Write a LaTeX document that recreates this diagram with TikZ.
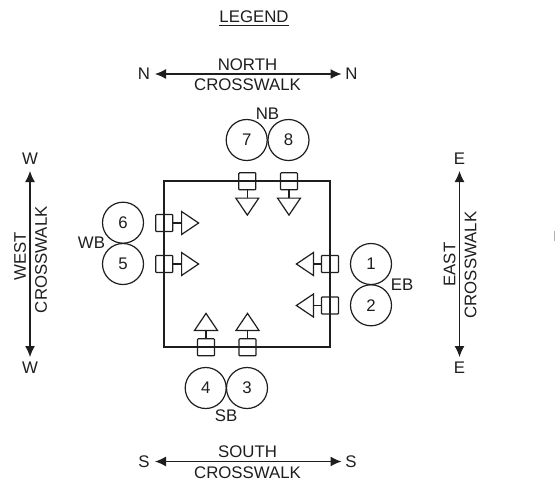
\documentclass[tikz,border=0pt]{standalone}
\usepackage{fontspec}
\setmainfont{Liberation Sans}
\usetikzlibrary{shapes.geometric,arrows.meta}
\definecolor{ink}{HTML}{1E1E1E}
\tikzset{
  x=1pt,y=-1pt,
  every node/.style={font=\fontsize{16.8}{18}\selectfont,text=ink,inner sep=0pt},
  line/.style={draw=ink,line width=1.2pt},
  phase/.style={circle,line,minimum size=41pt},
  head/.style={rectangle,line,minimum size=17pt,rounded corners=0.8pt},
  tri/.style={isosceles triangle,isosceles triangle apex angle=68,line,minimum height=17pt,anchor=lower side,inner sep=0pt},
  walk/.style={line,{Latex[length=11pt,width=10pt]}-{Latex[length=11pt,width=10pt]}},
}
\begin{document}
\begin{tikzpicture}
\useasboundingbox (0,0) rectangle (555,483);
\node (legend) at (254,17) {LEGEND};
\coordinate (ula) at (219,25.7);
\coordinate (ulb) at (288.5,25.7);
\draw[line] (ula) -- (ulb);
% intersection box
\node[rectangle,line,minimum width=166pt,minimum height=166pt] (box) at (247,264) {};
% circles
\node[phase] (p7) at (246.7,140) {7};
\node[phase] (p8) at (288.5,140) {8};
\node[phase] (p6) at (123,222.7) {6};
\node[phase] (p5) at (123,264) {5};
\node[phase] (p1) at (371,264) {1};
\node[phase] (p2) at (371,305.3) {2};
\node[phase] (p4) at (205.7,388) {4};
\node[phase] (p3) at (247,388) {3};
\node (nb) at (267.5,113.5) {NB};
\node (wb) at (91.5,242.5) {WB};
\node (eb) at (402,284.5) {EB};
\node (sb) at (226,416) {SB};
% north signals
\foreach \n/\x in {a/247.3,b/289}{
  \node[head] (h\n) at (\x,181.3) {};
  \node[tri,shape border rotate=270] (t\n) at (\x,197.5) {};
  \draw[line] (h\n.south) -- (t\n.lower side);
}
% south signals
\foreach \n/\x in {c/206,d/247.5}{
  \node[head] (h\n) at (\x,347.3) {};
  \node[tri,shape border rotate=90] (t\n) at (\x,331) {};
  \draw[line] (h\n.north) -- (t\n.lower side);
}
% west signals
\foreach \n/\y in {e/223,f/264}{
  \node[head] (h\n) at (164.3,\y) {};
  \node[tri] (t\n) at (181,\y) {};
  \draw[line] (h\n.east) -- (t\n.lower side);
}
% east signals
\foreach \n/\y in {g/264,h/305.5}{
  \node[head] (h\n) at (330,\y) {};
  \node[tri,shape border rotate=180] (t\n) at (314,\y) {};
  \draw[line] (h\n.west) -- (t\n.lower side);
}
% crosswalks
\node (nl) at (144,74) {N};
\node (nr) at (351.5,74) {N};
\coordinate (nla) at (155,74);
\coordinate (nra) at (341.5,74);
\draw[walk] (nla) -- (nra);
\node (nt) at (247.5,64.5) {NORTH};
\node (nc) at (247.5,85) {CROSSWALK};
\node (sl) at (144,461.5) {S};
\node (sr) at (351,461.5) {S};
\coordinate (sla) at (155,461.5);
\coordinate (sra) at (341.5,461.5);
\draw[walk] (sla) -- (sra);
\node (st) at (247.5,452) {SOUTH};
\node (sc) at (247.5,472.5) {CROSSWALK};
\node (et) at (459.5,159) {E};
\node (eb2) at (459.5,368) {E};
\coordinate (eta) at (459.5,171);
\coordinate (eba) at (459.5,357);
\draw[walk] (eta) -- (eba);
\node[rotate=90] (en) at (449.5,264.5) {EAST};
\node[rotate=90] (ec) at (470.5,265) {CROSSWALK};
\node (wt) at (30,159) {W};
\node (wb2) at (30,368) {W};
\coordinate (wta) at (30,171);
\coordinate (wba) at (30,357);
\draw[walk] (wta) -- (wba);
\node[rotate=90] (wn) at (20,256) {WEST};
\node[rotate=90] (wc) at (41,259.7) {CROSSWALK};
% stray edge mark at the right border
\fill[gray!60] (553.5,231) rectangle (555,241);
\end{tikzpicture}
\end{document}
